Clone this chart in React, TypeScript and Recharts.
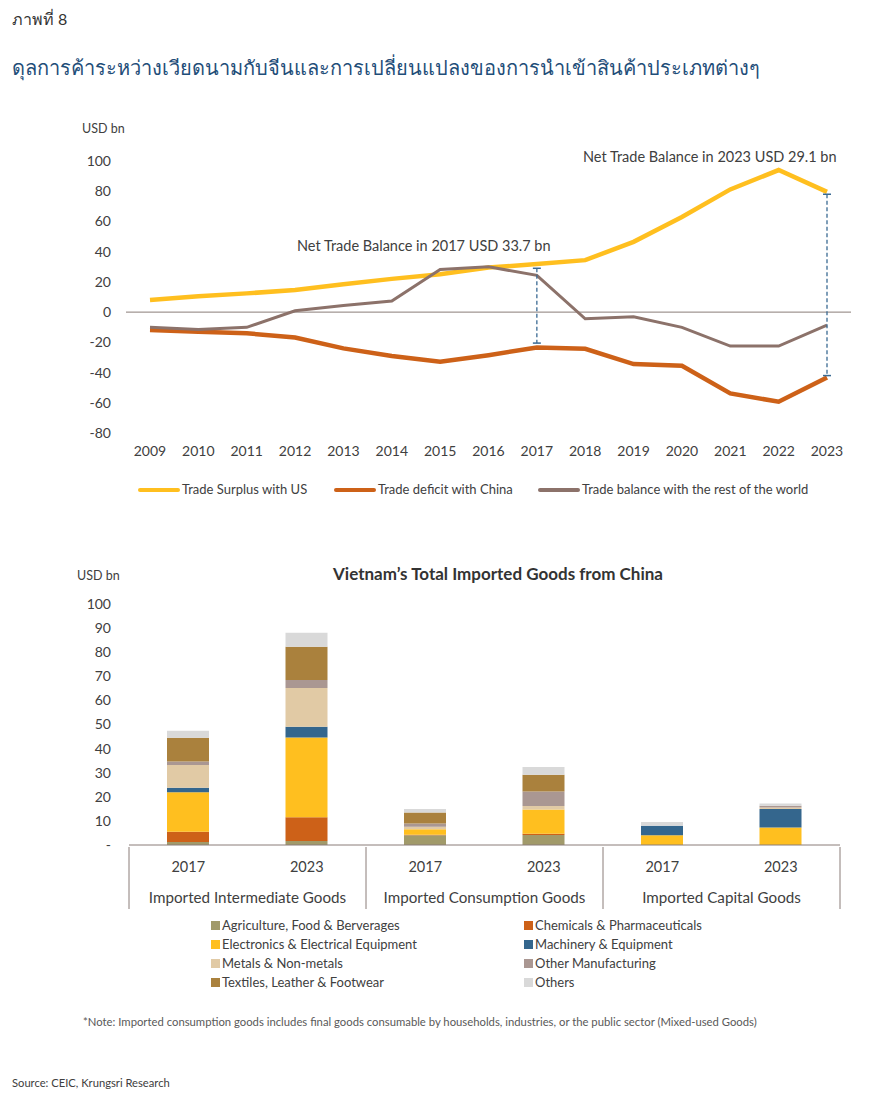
import React from 'react';
import {
  LineChart,
  Line,
  BarChart,
  Bar,
  XAxis,
  YAxis,
  ReferenceLine,
} from 'recharts';

// ---- line chart data ----
const years = ['2009', '2010', '2011', '2012', '2013', '2014', '2015', '2016', '2017', '2018', '2019', '2020', '2021', '2022', '2023'];
const usSurplus = [8, 10.5, 12.4, 14.6, 18.5, 22, 25.1, 29.5, 31.8, 34.4, 46.5, 63, 81.2, 94, 79.6];
const chinaDeficit = [-11.9, -13, -14, -16.8, -24, -29, -32.9, -28.5, -23.4, -24.3, -34.4, -35.5, -53.8, -59.3, -43.2];
const restOfWorld = [-10.1, -11.5, -10.1, 0.9, 4.4, 7.3, 28.2, 30, 24.3, -4.4, -3.1, -10.1, -22.5, -22.5, -8.6];
const lineTicks = [-80, -60, -40, -20, 0, 20, 40, 60, 80, 100];

// net balance whiskers: [year, top, bottom]
const whiskers: [string, number, number][] = [
  ['2017', 29, -20.5],
  ['2023', 78, -42],
];

// ---- bar chart data ----
const barGroups = [
  'Imported Intermediate Goods',
  'Imported Intermediate Goods',
  'Imported Consumption Goods',
  'Imported Consumption Goods',
  'Imported Capital Goods',
  'Imported Capital Goods',
];
const barYears = ['2017', '2023', '2017', '2023', '2017', '2023'];
const agri = [1.2, 1.7, 4.0, 4.1, 0, 0];
const chem = [4.3, 9.8, 0.3, 0.6, 0, 0];
const elec = [16.4, 33.1, 2.2, 10.0, 4.0, 7.3];
const mach = [1.9, 4.5, 0, 0, 4.0, 7.6];
const metals = [9.4, 16, 1.1, 1.5, 0, 0.7];
const otherMfg = [1.4, 3.4, 1.3, 6.0, 0, 0.7];
const textiles = [9.9, 13.8, 4.6, 7.0, 0, 0];
const others = [2.9, 5.8, 1.4, 3.2, 1.5, 0.9];
const barTicks = [0, 10, 20, 30, 40, 50, 60, 70, 80, 90, 100];

const lineSeries = [
  { key: 'us', name: 'Trade Surplus with US', color: '#FFBF1F', width: 4.5 },
  { key: 'china', name: 'Trade deficit with China', color: '#CD6118', width: 4.5 },
  { key: 'row', name: 'Trade balance with the rest of the world', color: '#8C726A', width: 3 },
];

const barSeries = [
  { key: 'agri', name: 'Agriculture, Food & Berverages', color: '#A19A6A' },
  { key: 'chem', name: 'Chemicals & Pharmaceuticals', color: '#CD6118' },
  { key: 'elec', name: 'Electronics & Electrical Equipment', color: '#FFBF1F' },
  { key: 'mach', name: 'Machinery & Equipment', color: '#34668D' },
  { key: 'metals', name: 'Metals & Non-metals', color: '#E1CAA5' },
  { key: 'otherMfg', name: 'Other Manufacturing', color: '#AA9792' },
  { key: 'textiles', name: 'Textiles, Leather & Footwear', color: '#AA813D' },
  { key: 'others', name: 'Others', color: '#D9D9D9' },
];

const lineData = years.map((year, i) => ({
  year,
  us: usSurplus[i],
  china: chinaDeficit[i],
  row: restOfWorld[i],
}));

const barData = barYears.map((year, i) => ({
  year,
  group: barGroups[i],
  agri: agri[i],
  chem: chem[i],
  elec: elec[i],
  mach: mach[i],
  metals: metals[i],
  otherMfg: otherMfg[i],
  textiles: textiles[i],
  others: others[i],
}));

const FONT = 'Lato, "Open Sans", sans-serif';
const TEXT = '#404040';
const AXIS = '#8A7C78';
const BAR_PLOT_W = 711;

const WhiskerShape = (props: any) => {
  const { x1, y1, y2 } = props;
  return (
    <g>
      <line x1={x1} x2={x1} y1={y1} y2={y2} stroke="#3A6A93" strokeWidth={1.3} strokeDasharray="4 2.5" />
      <line x1={x1 - 4} x2={x1 + 4} y1={y1} y2={y1} stroke="#3A6A93" strokeWidth={1.5} />
      <line x1={x1 - 4} x2={x1 + 4} y1={y2} y2={y2} stroke="#3A6A93" strokeWidth={1.5} />
    </g>
  );
};

const BarTick = (props: any) => {
  const { x, y, payload } = props;
  const i = payload.index;
  const band = BAR_PLOT_W / barYears.length;
  return (
    <g>
      <text x={x} y={y + 19} textAnchor="middle" dominantBaseline="central" fontSize={14.5} fill={TEXT} fontFamily={FONT}>
        {payload.value}
      </text>
      {i % 2 === 0 && (
        <>
          <line x1={x - band / 2} x2={x - band / 2} y1={y} y2={y + 62} stroke={AXIS} strokeWidth={1} />
          <text x={x + band / 2} y={y + 50} textAnchor="middle" dominantBaseline="central" fontSize={15.2} fill={TEXT} fontFamily={FONT}>
            {barGroups[i]}
          </text>
        </>
      )}
      {i === barYears.length - 1 && (
        <line x1={x + band / 2} x2={x + band / 2} y1={y} y2={y + 62} stroke={AXIS} strokeWidth={1} />
      )}
    </g>
  );
};

const abs = (left: number, top: number, extra: React.CSSProperties = {}): React.CSSProperties => ({
  position: 'absolute',
  left,
  top,
  whiteSpace: 'nowrap',
  lineHeight: 1,
  ...extra,
});

export default function App() {
  return (
    <div style={{ position: 'absolute', left: 0, top: 0, width: 874, height: 1107, background: '#fff', fontFamily: FONT, color: TEXT }}>
      <div style={abs(12, 11, { fontSize: 16, color: '#333' })}>ภาพที่ 8</div>
      <div style={abs(12, 57, { fontSize: 20, color: '#1F4E79' })}>
        ดุลการค้าระหว่างเวียดนามกับจีนและการเปลี่ยนแปลงของการนำเข้าสินค้าประเภทต่างๆ
      </div>

      {/* line chart */}
      <div style={abs(82, 123, { fontSize: 12.5 })}>USD bn</div>
      <div style={abs(297, 239, { fontSize: 14.5 })}>Net Trade Balance in 2017 USD 33.7 bn</div>
      <div style={abs(583, 150, { fontSize: 14.5 })}>Net Trade Balance in 2023 USD 29.1 bn</div>
      <div style={abs(0, 140)}>
        <LineChart width={874} height={323} data={lineData} margin={{ top: 21, right: 23, bottom: 0, left: 0 }}>
          <XAxis
            dataKey="year"
            interval={0}
            axisLine={false}
            tickLine={false}
            tickSize={0}
            tickMargin={13}
            height={30}
            padding={{ left: 24, right: 24 }}
            tick={{ fontSize: 14, fill: TEXT, fontFamily: FONT }}
          />
          <YAxis
            domain={[-80, 100]}
            ticks={lineTicks}
            interval={0}
            width={126}
            axisLine={false}
            tickLine={false}
            tickSize={0}
            tickMargin={15}
            tick={{ fontSize: 14, fill: TEXT, fontFamily: FONT }}
          />
          <ReferenceLine y={0} stroke={AXIS} strokeWidth={1} />
          {lineSeries.map((s) => (
            <Line
              key={s.key}
              type="linear"
              dataKey={s.key}
              name={s.name}
              stroke={s.color}
              strokeWidth={s.width}
              dot={false}
              activeDot={false}
              isAnimationActive={false}
            />
          ))}
          {whiskers.map(([yr, top, bottom]) => (
            <ReferenceLine
              key={yr}
              segment={[{ x: yr, y: top }, { x: yr, y: bottom }]}
              shape={WhiskerShape}
            />
          ))}
        </LineChart>
      </div>
      {lineSeries.map((s, i) => (
        <div key={s.key} style={abs([138, 334, 538][i], 483, { display: 'flex', alignItems: 'center', fontSize: 13 })}>
          <span style={{ display: 'inline-block', width: 42, height: 4, borderRadius: 2, background: s.color, marginRight: 2 }} />
          {s.name}
        </div>
      ))}

      {/* bar chart */}
      <div style={abs(77, 570, { fontSize: 12.5 })}>USD bn</div>
      <div style={abs(0, 565, { width: 996, textAlign: 'center', fontSize: 17, fontWeight: 700, color: '#333' })}>
        Vietnam’s Total Imported Goods from China
      </div>
      <div style={abs(0, 590)}>
        <BarChart width={874} height={330} data={barData} margin={{ top: 14, right: 34, bottom: 0, left: 0 }} barSize={42}>
          <XAxis
            dataKey="year"
            interval={0}
            stroke={AXIS}
            tickLine={false}
            tickSize={0}
            height={75}
            tick={BarTick}
          />
          <YAxis
            domain={[0, 100]}
            ticks={barTicks}
            interval={0}
            width={129}
            axisLine={false}
            tickLine={false}
            tickSize={0}
            tickMargin={18}
            tickFormatter={(v: number) => (v === 0 ? '-' : String(v))}
            tick={{ fontSize: 14, fill: TEXT, fontFamily: FONT }}
          />
          {barSeries.map((s) => (
            <Bar key={s.key} dataKey={s.key} name={s.name} stackId="a" fill={s.color} isAnimationActive={false} />
          ))}
        </BarChart>
      </div>
      {barSeries.map((s, i) => (
        <div
          key={s.key}
          style={abs(i % 2 === 0 ? 211 : 524, 919 + Math.floor(i / 2) * 19, { display: 'flex', alignItems: 'center', fontSize: 13 })}
        >
          <span style={{ display: 'inline-block', width: 9, height: 9, background: s.color, marginRight: 2 }} />
          {s.name}
        </div>
      ))}

      <div style={abs(83, 1016, { fontSize: 11.3, color: '#595959' })}>
        *Note: Imported consumption goods includes final goods consumable by households, industries, or the public sector (Mixed-used Goods)
      </div>
      <div style={abs(12, 1077, { fontSize: 11.2, color: '#404040' })}>Source: CEIC, Krungsri Research</div>
    </div>
  );
}
